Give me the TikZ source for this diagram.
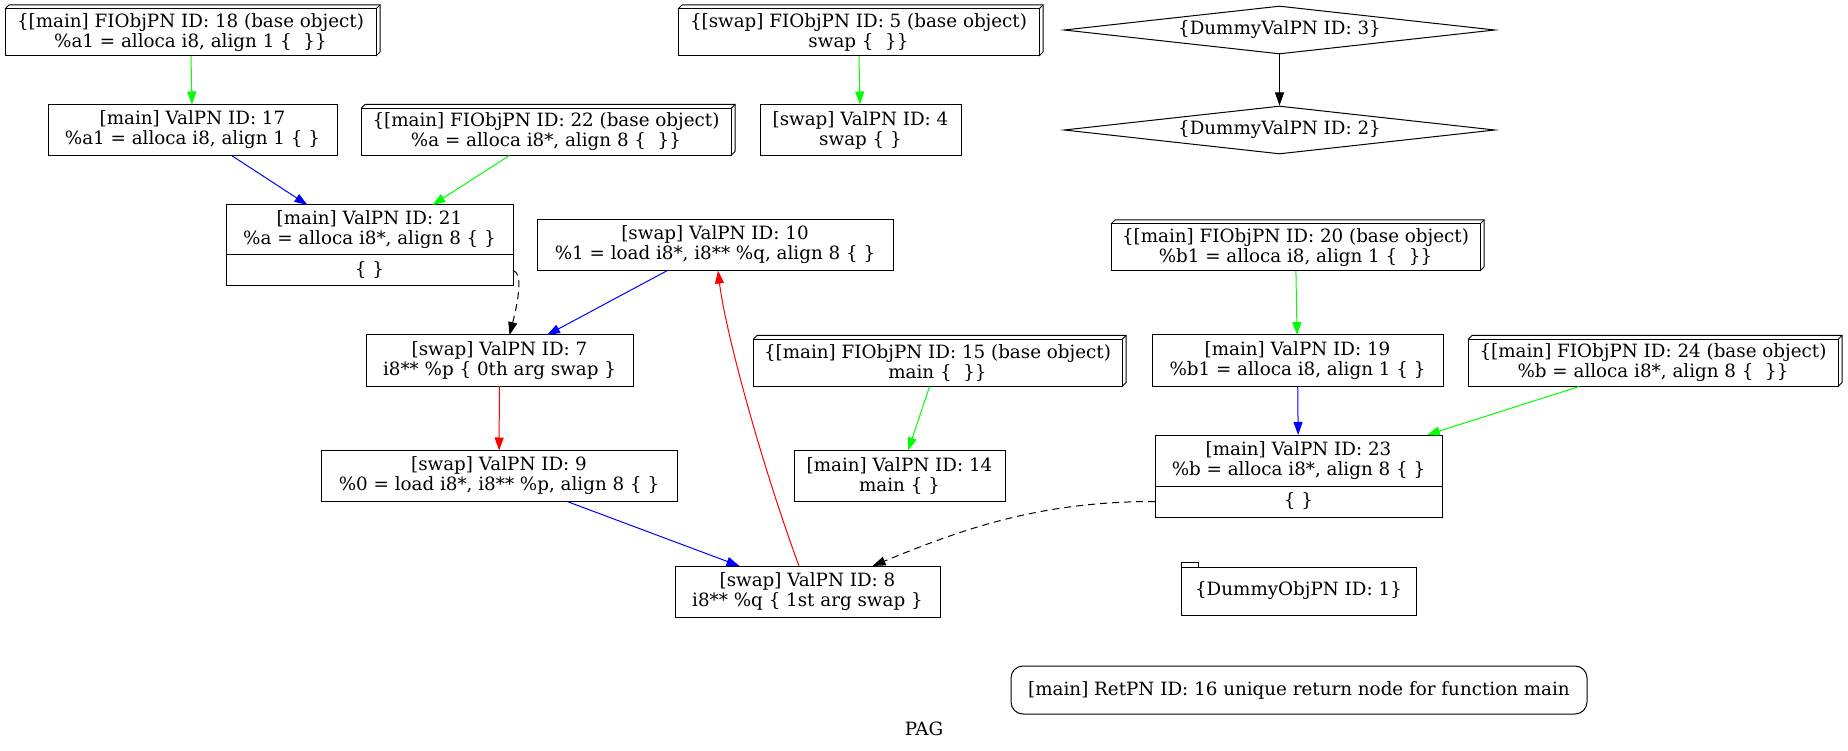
\documentclass[tikz,border=0pt]{standalone}
\usepackage{fontspec}
\setmainfont{DejaVu Serif}
\usetikzlibrary{arrows.meta, shapes.geometric, fit}

\begin{document}
\begin{tikzpicture}[
    x = 1pt,
    y = -1pt,
    line width=1pt,
    >={Triangle[length=13pt, width=9pt]},
    font=\fontsize{18.3pt}{20pt}\selectfont,
    valpn/.style = {draw, line width=1pt, align=center, inner sep=0pt,
              outer sep=0pt, minimum height=51pt},
    fiobj/.style = {valpn, minimum height=47pt},
    port/.style = {valpn, minimum height=31pt, anchor=north},
    record/.style = {inner sep=0pt, outer sep=0pt},
    dummyval/.style = {draw, line width=1pt, diamond, shape aspect=9,
              inner sep=0pt, minimum width=431pt, minimum height=48pt},
    dummyobj/.style = {valpn, minimum height=48pt},
    retpn/.style = {valpn, rounded corners=12pt, minimum height=48pt},
    ptsto/.style = {dash pattern=on 7pt off 5pt},
    ]

\useasboundingbox (0,0) rectangle (1848,751);

% top row
\node [fiobj, minimum width=371pt] (fiobj_18) at (190.5,32.5) {\{[main] FIObjPN ID: 18 (base object)\\ \%a1 = alloca i8, align 1 \{~~\}\}};
\node [fiobj, minimum width=361pt] (fiobj_5) at (858.5,32.5) {\{[swap] FIObjPN ID: 5 (base object)\\ swap \{~~\}\}};
\node [dummyval] (dummyval_3) at (1279.5,30) {\{DummyValPN ID: 3\}};

\node [valpn, minimum width=289pt] (val_17) at (192.5,130) {[main] ValPN ID: 17\\ \%a1 = alloca i8, align 1 \{ \}};
\node [fiobj, minimum width=370pt] (fiobj_22) at (546,132) {\{[main] FIObjPN ID: 22 (base object)\\ \%a = alloca i8*, align 8 \{~~\}\}};
\node [valpn, minimum width=201pt] (val_4) at (860.5,130) {[swap] ValPN ID: 4\\ swap \{ \}};
\node [dummyval] (dummyval_2) at (1279.5,130) {\{DummyValPN ID: 2\}};

% records with a port
\node [valpn, minimum width=287pt, minimum height=50pt] (val_21) at (369.5,230) {[main] ValPN ID: 21\\ \%a = alloca i8*, align 8 \{ \}};
\node [port, minimum width=287pt] (val_21_port) at (val_21.south) {\{ \}};
\node [record, fit=(val_21)(val_21_port)] (val_21_rec) {};

\node [valpn, minimum width=356pt] (val_10) at (715,245) {[swap] ValPN ID: 10\\ \%1 = load i8*, i8** \%q, align 8 \{ \}};
\node [fiobj, minimum width=369pt] (fiobj_20) at (1295.5,247.5) {\{[main] FIObjPN ID: 20 (base object)\\ \%b1 = alloca i8, align 1 \{~~\}\}};

\node [valpn, minimum width=267pt] (val_7) at (499.5,360.5) {[swap] ValPN ID: 7\\ i8** \%p \{ 0th arg swap \}};
\node [fiobj, minimum width=369pt] (fiobj_15) at (937.5,363) {\{[main] FIObjPN ID: 15 (base object)\\ main \{~~\}\}};
\node [valpn, minimum width=291pt] (val_19) at (1297.5,360.5) {[main] ValPN ID: 19\\ \%b1 = alloca i8, align 1 \{ \}};
\node [fiobj, minimum width=370pt] (fiobj_24) at (1653,363) {\{[main] FIObjPN ID: 24 (base object)\\ \%b = alloca i8*, align 8 \{~~\}\}};

\node [valpn, minimum width=356pt] (val_9) at (499,476) {[swap] ValPN ID: 9\\ \%0 = load i8*, i8** \%p, align 8 \{ \}};
\node [valpn, minimum width=211pt] (val_14) at (899.5,476) {[main] ValPN ID: 14\\ main \{ \}};
\node [valpn, minimum width=287pt] (val_23) at (1298.5,460.5) {[main] ValPN ID: 23\\ \%b = alloca i8*, align 8 \{ \}};
\node [port, minimum width=287pt] (val_23_port) at (val_23.south) {\{ \}};
\node [record, fit=(val_23)(val_23_port)] (val_23_rec) {};

\node [valpn, minimum width=265pt] (val_8) at (807.5,591.5) {[swap] ValPN ID: 8\\ i8** \%q \{ 1st arg swap \}};
\node [dummyobj, minimum width=235pt] (dummyobj_1) at (1298.5,591) {\{DummyObjPN ID: 1\}};
\draw [line width=1pt] (dummyobj_1.north west) rectangle ++(17,-5);

\node [retpn, minimum width=576pt] (ret_16) at (1299,690) {[main] RetPN ID: 16 unique return node for function main};
\node (title) at (924,729) {PAG};

% box3d faces
\foreach \n in {fiobj_18,fiobj_5,fiobj_22,fiobj_20,fiobj_15,fiobj_24} {
    \draw [line width=1pt] (\n.north west) -- ++(4,-4) -| ([shift={(4,-4)}]\n.south east) -- (\n.south east);
    \draw [line width=1pt] (\n.north east) -- ++(4,-4);
}

% edges
\draw [->, green] (fiobj_18) -- (val_17);
\draw [->, green] (fiobj_5) -- (val_4);
\draw [->, black] (dummyval_3) -- (dummyval_2);
\draw [->, blue] (val_17) -- (val_21_rec);
\draw [->, green] (fiobj_22) -- (val_21_rec);
\draw [->, black, ptsto] (val_21_port.east) .. controls +(10,2) and +(9,-35) .. ([xshift=10pt]val_7.north);
\draw [->, blue] (val_10) -- (val_7);
\draw [->, red] (val_7) -- (val_9);
\draw [->, blue] (val_9) -- (val_8);
\draw [->, red] ([xshift=-8.5pt]val_8.north) .. controls +(-39,-106) and +(7,59) .. ([xshift=3pt]val_10.south);
\draw [->, green] (fiobj_15) -- (val_14);
\draw [->, green] (fiobj_20) -- (val_19);
\draw [->, blue] (val_19) -- (val_23_rec);
\draw [->, green] (fiobj_24) -- (val_23_rec);
\draw [->, black, ptsto] (val_23_port.west) .. controls +(-115,0) and +(92.5,-38) .. ([xshift=65pt]val_8.north);

\end{tikzpicture}
\end{document}
